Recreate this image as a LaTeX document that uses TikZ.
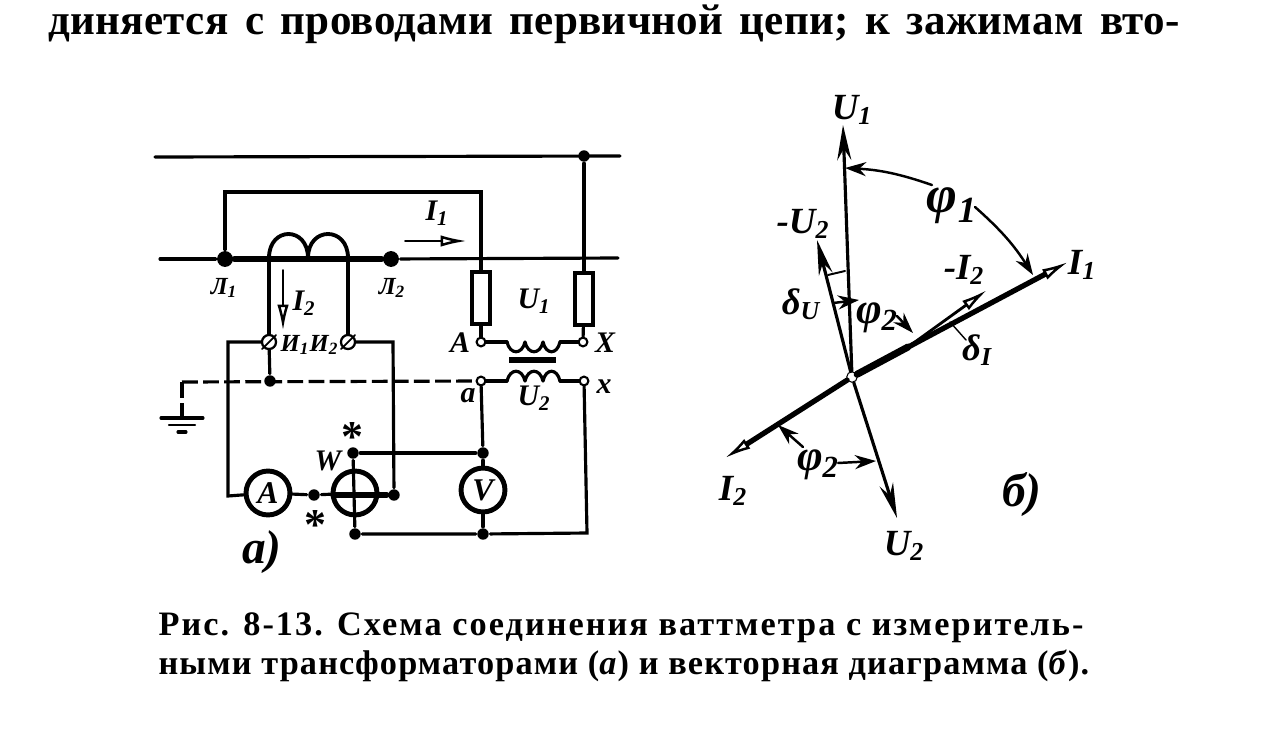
\documentclass[tikz,border=0pt]{standalone}
\usepackage{fontspec}
\setmainfont{Liberation Serif}
\newfontfamily\bodyfont[LetterSpace=0.7,WordSpace=1.5]{Liberation Serif}
\newfontfamily\capfont[LetterSpace=6]{Liberation Serif}
\newfontfamily\capfontb[LetterSpace=3.4]{Liberation Serif}
\usetikzlibrary{arrows, arrows.meta}

\begin{document}
\begin{tikzpicture}[
	x = 0.02cm, % one unit is one pixel of the picture
	y = -0.02cm,
	> = stealth, % arrow head style
	line width = 1.8pt,
	line cap = round
	]
	
	\tikzstyle{junction}=[circle, fill = black, inner sep = 0pt, minimum size = 6.5pt]
	\tikzstyle{terminal}=[circle, draw = black, fill = white, line width = 1.2pt, inner sep = 0pt, minimum size = 5pt]
	\tikzstyle{clamp}=[circle, draw = black, fill = white, line width = 1.3pt, inner sep = 0pt, minimum size = 8pt]
	\tikzstyle{meter}=[circle, draw = black, line width = 2.8pt, fill = white, inner sep = 0pt, minimum size = 25pt, font = \bfseries\itshape\fontsize{18}{18}\selectfont]
	\tikzstyle{fuse}=[draw = black, line width = 2.2pt, fill = white, inner sep = 0pt, minimum width = 10.5pt, minimum height = 30pt]
	\tikzstyle{lab}=[inner sep = 0pt, font = \bfseries\itshape\fontsize{17}{17}\selectfont]
	\tikzstyle{smalllab}=[inner sep = 0pt, font = \bfseries\itshape\fontsize{14}{14}\selectfont]
	\tikzstyle{vectorlab}=[inner sep = 0pt, font = \bfseries\itshape\fontsize{21}{21}\selectfont]
	\tikzstyle{philab}=[inner sep = 0pt, font = \bfseries\itshape\fontsize{25}{25}\selectfont]
	\tikzstyle{biglab}=[inner sep = 0pt, font = \bfseries\itshape\fontsize{27}{27}\selectfont]
	\tikzstyle{starlab}=[inner sep = 0pt, font = \bfseries\fontsize{25}{25}\selectfont]
	\tikzstyle{bodytext}=[inner sep = 0pt, anchor = base west, font = \bodyfont\bfseries\fontsize{24.5}{24.5}\selectfont]
	\tikzstyle{captext}=[inner sep = 0pt, anchor = base west, font = \capfont\bfseries\fontsize{19.5}{19.5}\selectfont]
	\tikzstyle{captextb}=[inner sep = 0pt, anchor = base west, font = \capfontb\bfseries\fontsize{19.5}{19.5}\selectfont]
	\tikzstyle{openarrow}=[-{Latex[open, fill = white, length = 15pt, width = 6.5pt, line width = 1.4pt]}]
	\tikzstyle{solidarrow}=[-{Stealth[length = 20pt, width = 8pt]}]
	\tikzstyle{anglearrow}=[-{Stealth[length = 12pt, width = 8pt]}, line width = 1.4pt]
	
	\useasboundingbox[fill = white] (0,0) rectangle (1280,740);
	
	% text above and below
	\node[bodytext] (bodyline) at (47,35) {диняется с проводами первичной цепи; к зажимам вто-};
	\node[captext] (capline1) at (157,635) {Рис. 8-13. Схема соединения ваттметра с измеритель-};
	\node[captextb] (capline2) at (157,674) {ными трансформаторами (\textit{а}) и векторная диаграмма (\textit{б}).};
	
	% lines of the primary circuit
	\coordinate (topL) at (155,157);
	\coordinate (topR) at (620,156);
	\coordinate (midL) at (160,259);
	\coordinate (midR) at (618,258);
	\node[junction] (topdot) at (584,156) {};
	\node[junction, minimum size = 9pt] (L1) at (225,259) {};
	\node[junction, minimum size = 9pt] (L2) at (391,259) {};
	\coordinate (corner1) at (225,192);
	\coordinate (corner2) at (481,192);
	\node[fuse] (fuseA) at (481,298) {};
	\node[fuse] (fuseX) at (584,299) {};
	\node[terminal] (A) at (481,342) {};
	\node[terminal] (X) at (583,342) {};
	\node[terminal] (a) at (481,381) {};
	\node[terminal] (x) at (584,381) {};
	
	\draw (topL) -- (topR);
	\draw (midL) -- (L1);
	\draw (L2) -- (midR);
	\draw[line width = 3.6pt] (L1) -- (L2);
	\draw (L1) -- (corner1) -- (corner2) -- (fuseA);
	\draw (topdot) -- (fuseX);
	\draw (fuseA) -- (A);
	\draw (fuseX) -- (X);
	
	% current transformer
	\coordinate (ct1) at (269,258);
	\coordinate (ct2) at (308,258);
	\coordinate (ct3) at (348,258);
	\node[clamp] (I1) at (269,342) {};
	\node[clamp] (I2) at (348,342) {};
	\draw[line width = 2.2pt] (ct1) .. controls (269,226) and (308,226) .. (ct2);
	\draw[line width = 2.2pt] (ct2) .. controls (308,226) and (348,226) .. (ct3);
	\draw[line width = 2.4pt] (ct1) -- (I1);
	\draw (ct3) -- (I2);
	\draw[line width = 1pt] (262,349) -- (276,335);
	\draw[line width = 1pt] (341,349) -- (355,335);
	
	% voltage transformer
	\coordinate (vt1) at (507,342);
	\coordinate (vt2) at (525,342);
	\coordinate (vt3) at (543,342);
	\coordinate (vt4) at (560,342);
	\coordinate (vs1) at (507,381);
	\coordinate (vs2) at (525,381);
	\coordinate (vs3) at (543,381);
	\coordinate (vs4) at (560,381);
	\coordinate (core1) at (509,360);
	\coordinate (core2) at (556,360);
	\draw (A) -- (vt1);
	\draw (vt1) .. controls (510,355) and (522,355) .. (vt2);
	\draw (vt2) .. controls (528,355) and (540,355) .. (vt3);
	\draw (vt3) .. controls (546,355) and (557,355) .. (vt4);
	\draw (vt4) -- (X);
	\draw[line width = 3pt, line cap = butt] (core1) -- (core2);
	\draw (a) -- (vs1);
	\draw (vs1) .. controls (510,368) and (522,368) .. (vs2);
	\draw (vs2) .. controls (528,368) and (540,368) .. (vs3);
	\draw (vs3) .. controls (546,368) and (557,368) .. (vs4);
	\draw (vs4) -- (x);
	
	% earth
	\node[junction] (earthdot) at (270,381) {};
	\coordinate (dashL) at (182,382);
	\coordinate (earth) at (182,418);
	\coordinate (bar1L) at (161,418);
	\coordinate (bar1R) at (203,418);
	\coordinate (bar2L) at (169,425);
	\coordinate (bar2R) at (195,425);
	\coordinate (bar3L) at (178,432);
	\coordinate (bar3R) at (186,432);
	\draw[dash pattern = on 9pt off 3pt, line cap = butt] (dashL) -- (a);
	\draw[dash pattern = on 9pt off 3pt, line cap = butt] (dashL) -- (earth);
	\draw (bar1L) -- (bar1R);
	\draw[line width = 1.4pt] (bar2L) -- (bar2R);
	\draw (bar3L) -- (bar3R);
	\draw (I1) -- (earthdot);
	
	% instruments
	\node[meter] (ammeter) at (268,493) {A};
	\node[meter] (wattmeter) at (355,493) {};
	\node[meter] (voltmeter) at (483,490) {V};
	\node[junction] (wL) at (314,495) {};
	\node[junction] (wR) at (394,495) {};
	\node[junction] (wT) at (353,453) {};
	\node[junction] (wB) at (355,534) {};
	\node[junction] (vT) at (483,453) {};
	\node[junction] (vB) at (483,534) {};
	\coordinate (left1) at (228,342);
	\coordinate (left2) at (228,496);
	\coordinate (right1) at (393,342);
	\coordinate (corner3) at (587,533);
	\draw (I1) -- (left1) -- (left2) -- (ammeter);
	\draw (ammeter) -- (wL);
	\draw (wL) -- (wattmeter);
	\draw (I2) -- (right1) -- (wR);
	\draw[line width = 3.2pt] (333,495) -- (wR);
	\draw (wT) -- (wB);
	\draw (wT) -- (vT);
	\draw (a) -- (vT);
	\draw (vT) -- (voltmeter);
	\draw (voltmeter) -- (vB);
	\draw (wB) -- (vB) -- (corner3) -- (x);
	
	% current arrows and labels of the circuit
	\coordinate (arrI2a) at (283,270);
	\coordinate (arrI2b) at (283,331);
	\coordinate (arrI1a) at (405,241);
	\coordinate (arrI1b) at (467,241);
	\draw[openarrow, line width = 1.1pt] (arrI2a) -- (arrI2b);
	\draw[openarrow, line width = 1.1pt] (arrI1a) -- (arrI1b);
	\node[smalllab] (labL1) at (224,288) {Л\textsubscript{1}};
	\node[smalllab] (labL2) at (392,288) {Л\textsubscript{2}};
	\node[lab] (labI2) at (304,303) {I\textsubscript{2}};
	\node[lab] (labI1) at (437,213) {I\textsubscript{1}};
	\node[smalllab] (labi1) at (295,345) {И\textsubscript{1}};
	\node[smalllab] (labi2) at (324,345) {И\textsubscript{2}};
	\node[lab] (labU1) at (534,301) {U\textsubscript{1}};
	\node[lab] (labU2) at (534,398) {U\textsubscript{2}};
	\node[lab] (labA) at (460,343) {A};
	\node[lab] (labX) at (605,343) {X};
	\node[lab] (laba) at (468,396) {a};
	\node[lab] (labx) at (604,387) {x};
	\node[lab] (labW) at (328,461) {W};
	\node[starlab] (star1) at (352,437) {*};
	\node[starlab] (star2) at (315,525) {*};
	\node[biglab] (laba2) at (262,552) {а)};
	
	% vector diagram
	\node[terminal, minimum size = 6pt, line width = 0.6pt] (O) at (852,377) {};
	\coordinate (tipU1) at (843,125);
	\coordinate (tipI1) at (1068,262);
	\coordinate (tipmI2) at (987,290);
	\coordinate (tipmU2) at (817,240);
	\coordinate (tipI2) at (725,458);
	\coordinate (tipU2) at (897,518);
	\coordinate (thickI) at (908,347);
	\draw[solidarrow] (O) -- (tipU1);
	\draw[solidarrow] (O) -- (tipmU2);
	\draw[solidarrow] (O) -- (tipU2);
	\draw[openarrow, line width = 3pt] (O) -- (tipI1);
	\draw[openarrow, line width = 3pt] (O) -- (tipI2);
	\draw[openarrow, line width = 1.6pt] (thickI) -- (tipmI2);
	\draw[line width = 4pt] (O) -- (thickI);
	
	% angles
	\coordinate (phi1a) at (932,185);
	\coordinate (phi1b) at (845,168);
	\coordinate (phi1c) at (975,207);
	\coordinate (phi1d) at (1033,275);
	\coordinate (phi2a) at (833,303);
	\coordinate (phi2b) at (859,300);
	\coordinate (phi2c) at (897,316);
	\coordinate (phi2d) at (913,333);
	\coordinate (phi3a) at (803,447);
	\coordinate (phi3b) at (778,425);
	\coordinate (phi3c) at (838,463);
	\coordinate (phi3d) at (876,461);
	\coordinate (du1) at (828,275);
	\coordinate (du2) at (845,271);
	\coordinate (di1) at (950,322);
	\coordinate (di2) at (966,340);
	\draw[anglearrow] (phi1a) to[bend right = 8] (phi1b);
	\draw[anglearrow] (phi1c) to[bend left = 8] (phi1d);
	\draw[anglearrow] (phi2a) -- (phi2b);
	\draw[anglearrow] (phi2c) -- (phi2d);
	\draw[anglearrow] (phi3a) -- (phi3b);
	\draw[anglearrow] (phi3c) -- (phi3d);
	\draw[line width = 1.1pt] (du1) -- (du2);
	\draw[line width = 0.8pt] (di1) -- (di2);
	
	\node[vectorlab] (vU1) at (852,110) {U\textsubscript{1}};
	\node[vectorlab] (vmU2) at (803,224) {-U\textsubscript{2}};
	\node[vectorlab] (vI1) at (1082,265) {I\textsubscript{1}};
	\node[vectorlab] (vmI2) at (964,270) {-I\textsubscript{2}};
	\node[vectorlab] (vI2) at (733,491) {I\textsubscript{2}};
	\node[vectorlab] (vU2) at (904,546) {U\textsubscript{2}};
	\node[philab, font = \bfseries\itshape\fontsize{30}{30}\selectfont] (vphi1) at (952,206) {φ\textsubscript{1}};
	\node[philab] (vphi2) at (877,318) {φ\textsubscript{2}};
	\node[philab] (vphi3) at (818,465) {φ\textsubscript{2}};
	\node[vectorlab] (vdU) at (801,304) {δ\textsubscript{U}};
	\node[vectorlab] (vdI) at (977,350) {δ\textsubscript{I}};
	\node[biglab] (labb) at (1022,495) {б)};
	
\end{tikzpicture}
\end{document}
